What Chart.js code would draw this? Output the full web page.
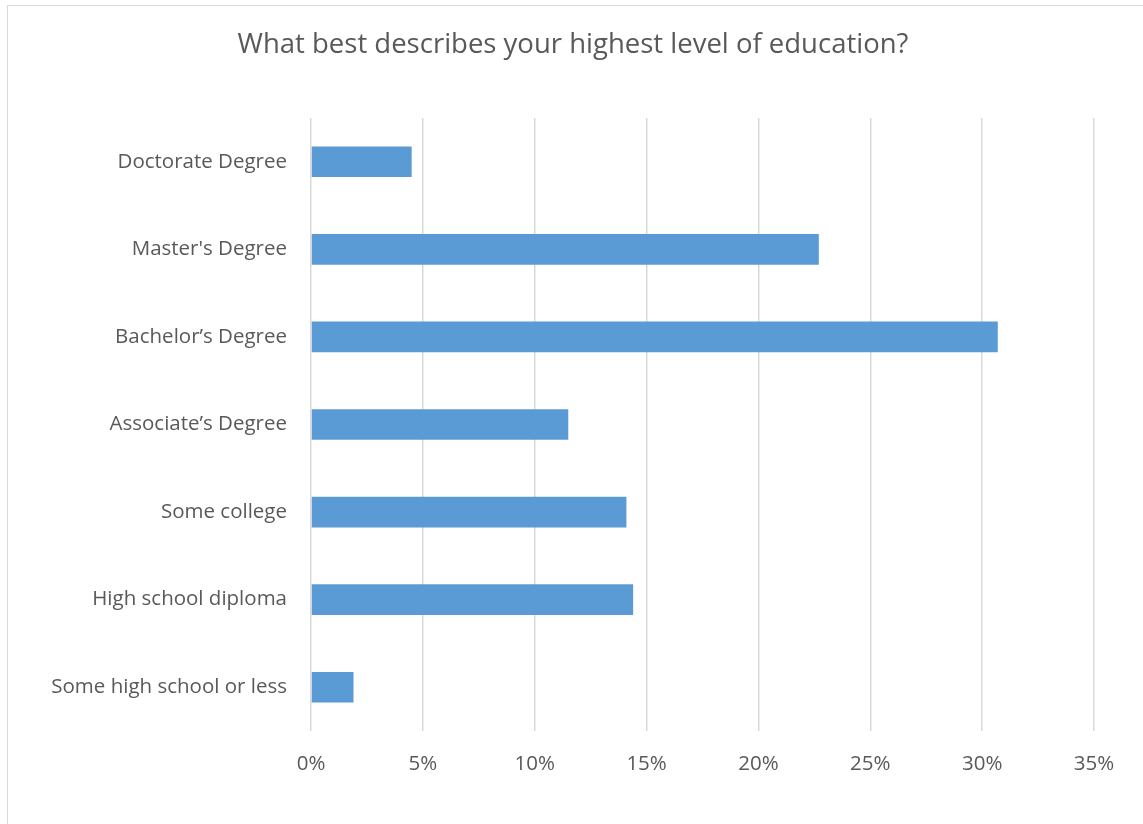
<!DOCTYPE html>
<html>
<head>
<meta charset="utf-8">
<script src="https://cdn.jsdelivr.net/npm/chart.js@4"></script>
<style>
  html, body { margin: 0; padding: 0; background: #fff; overflow: hidden; }
  #frame { position: absolute; left: 7px; top: 5px; width: 1160px; height: 840px; border: 1px solid #d9d9d9; box-sizing: border-box; }
  #wrap { position: absolute; left: 0; top: 0; width: 1143px; height: 824px; }
</style>
</head>
<body>
<div id="frame"></div>
<div id="wrap"><canvas id="c" width="1143" height="824"></canvas></div>
<script>
const categories = [
  "Doctorate Degree",
  "Master's Degree",
  "Bachelor\u2019s Degree",
  "Associate\u2019s Degree",
  "Some college",
  "High school diploma",
  "Some high school or less"
];
const shares = [4.5, 22.7, 30.7, 11.5, 14.1, 14.4, 1.9];
const xTicks = [0, 5, 10, 15, 20, 25, 30, 35];
const chartTitle = "What best describes your highest level of education?";

const FONT = "'Open Sans', Lato, sans-serif";
const TEXT = "#595959";

new Chart(document.getElementById('c'), {
  type: 'bar',
  data: {
    labels: categories,
    datasets: [{
      data: shares,
      backgroundColor: '#5B9BD5',
      borderWidth: 0,
      barPercentage: 0.35,
      categoryPercentage: 1.0
    }]
  },
  options: {
    indexAxis: 'y',
    responsive: false,
    animation: false,
    layout: { padding: { left: 3, right: 0, top: 0, bottom: 0 } },
    plugins: {
      legend: { display: false },
      tooltip: { enabled: false },
      title: {
        display: true,
        text: chartTitle,
        color: TEXT,
        font: { family: FONT, size: 27.5, weight: 'normal' },
        padding: { top: 28.5, bottom: 56.5 }
      }
    },
    scales: {
      x: {
        min: xTicks[0],
        max: xTicks[xTicks.length - 1],
        afterBuildTicks: (s) => { s.ticks = xTicks.map(v => ({ value: v })); },
        afterFit: (s) => { s.height = 93; },
        grid: { color: '#d9d9d9', lineWidth: 1.5, drawTicks: false },
        border: { display: false },
        ticks: {
          color: TEXT,
          font: { family: FONT, size: 20.5 },
          padding: 21,
          callback: (v) => v + '%'
        }
      },
      y: {
        afterFit: (s) => { s.width = 308; },
        grid: { display: false, drawTicks: false },
        border: { display: false },
        ticks: {
          color: TEXT,
          font: { family: FONT, size: 20.5 },
          padding: 24
        }
      },
      yRight: {
        type: 'category',
        position: 'right',
        afterFit: (s) => { s.width = 49; },
        grid: { display: false, drawTicks: false },
        border: { display: false },
        ticks: { display: false }
      }
    }
  }
});
</script>
</body>
</html>
